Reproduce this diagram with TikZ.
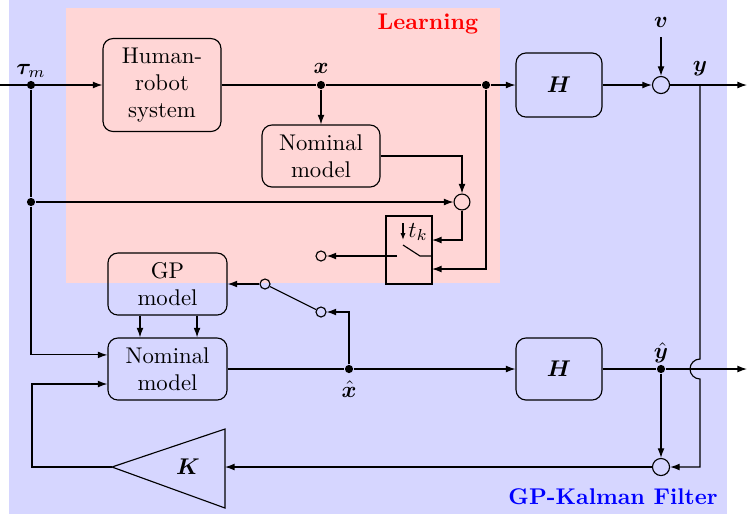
\documentclass[tikz,border=0pt]{standalone}
\usepackage{bm}
\usetikzlibrary{arrows.meta}
\begin{document}
\begin{tikzpicture}[x=0.44pt,y=-0.44pt,line width=0.5pt,
  >={Latex[length=4.2pt,width=3pt]},
  blk/.style={draw,rounded corners=4.4pt,align=center,inner sep=0pt},
  sumc/.style={draw,circle,minimum size=7.5pt,inner sep=0pt},
  term/.style={draw,circle,minimum size=4.4pt,inner sep=0pt},
  dot/.style={circle,fill,minimum size=3.6pt,inner sep=0pt},
  lbl/.style={inner sep=1pt}]
\useasboundingbox (0,0) rectangle (747,514);
\fill[blue!16] (9,0) rectangle (727,514);
\fill[red!16] (66,8) rectangle (500,283);
\node[text=red,font=\bfseries] (learn) at (428,24) {Learning};
\node[text=blue,font=\bfseries] (kf) at (613,497) {GP-Kalman Filter};
% blocks
\node[blk,minimum width=51.9pt,minimum height=40.9pt] (hrs) at (162,85) {Human-\\robot\\system};
\node[blk,minimum width=51.9pt,minimum height=27.3pt] (nom1) at (321,156) {Nominal\\model};
\node[blk,minimum width=37.8pt,minimum height=28.2pt] (H1) at (559,85) {$\bm{H}$};
\node[sumc] (s1) at (661,85) {};
\node[sumc,minimum size=7pt] (s2) at (462,202) {};
\node[draw,minimum width=20.2pt,minimum height=29.9pt,inner sep=0pt] (sw) at (409,250) {};
\node[term] (c1) at (321,256) {};
\node[term] (c2) at (265,284) {};
\node[term] (c3) at (321,312) {};
\node[blk,minimum width=52.4pt,minimum height=27.3pt] (gp) at (167.5,284) {GP\\model};
\node[blk,minimum width=52.4pt,minimum height=27.3pt] (nom2) at (167.5,369) {Nominal\\model};
\node[blk,minimum width=37.8pt,minimum height=27.3pt] (H2) at (559,369) {$\bm{H}$};
\node[sumc] (s3) at (661,467) {};
\coordinate (Ktip) at (112,467);
\coordinate (Kin) at (225,467);
\draw (225,429) -- (225,508) -- (Ktip) -- cycle;
\node (K) at (188,467) {$\bm{K}$};
% dots
\node[dot] (dtau) at (31,85) {};
\node[dot] (dx) at (321,85) {};
\node[dot] (dr) at (486,85) {};
\node[dot] (dl) at (31,202) {};
\node[dot] (dxh) at (349,369) {};
\node[dot] (dyh) at (661,369) {};
% coordinates
\coordinate (in) at (0,85);
\coordinate (out1) at (747,85);
\coordinate (out2) at (747,369);
\coordinate (vin) at (661,37);
\coordinate (yb) at (700,85);
\coordinate (hopt) at (700,359);
\coordinate (ybot) at (700,467);
\coordinate (kl) at (32,467);
\coordinate (swin1) at (432,240);
\coordinate (swin2) at (432,269);
\coordinate (swo) at (397,256);
\coordinate (swb1) at (403,245);
\coordinate (swb2) at (420,256);
\coordinate (tka) at (403,223);
\coordinate (tkb) at (403,240);
% labels
\node[lbl] (ltau) at (31,71) {$\bm{\tau}_m$};
\node[lbl] (lx) at (321,68) {$\bm{x}$};
\node[lbl] (ly) at (700,69) {$\bm{y}$};
\node[lbl] (lv) at (661,22) {$\bm{v}$};
\node[lbl] (lyh) at (661,353) {$\hat{\bm{y}}$};
\node[lbl] (lxh) at (349,389) {$\hat{\bm{x}}$};
\node[lbl] (ltk) at (418,232) {$t_k$};
% connectors
\draw[->] (in) -- (hrs.west);
\draw (hrs.east) -- (dx) -- (dr);
\draw[->] (dr) -- (H1.west);
\draw[->] (dx) -- (nom1.north);
\draw[->] (H1) -- (s1);
\draw[->] (vin) -- (s1);
\draw[->] (s1) -- (out1);
\draw[->] (nom1.east) -| (s2);
\draw[->] (dl) -- (s2);
\draw[->] (s2) |- (swin1);
\draw[->] (dr) |- (swin2);
\draw (dtau) -- (dl);
\draw[->] (dl) |- ([yshift=6.2pt]nom2.west);
\draw[->] (swo) -- (c1);
\draw (swb1) -- (swb2) -- (sw.east |- swb2);
\draw[->,>={Latex[length=3pt,width=2.2pt]}] (tka) -- (tkb);
\draw[->] (c2) -- (gp.east);
\draw (c2) -- (c3);
\draw[->] (dxh) |- (c3);
\draw[->] ([xshift=-12.1pt]gp.south) -- ([xshift=-12.1pt]nom2.north);
\draw[->] ([xshift=13pt]gp.south) -- ([xshift=13pt]nom2.north);
\draw (nom2.east) -- (dxh);
\draw[->] (dxh) -- (H2);
\draw (H2) -- (dyh);
\draw[->] (dyh) -- (out2);
\draw[->] (dyh) -- (s3);
\draw[->] (yb) -- (hopt) arc[start angle=90,end angle=270,radius=4.4pt] -- (ybot) -- (s3.east);
\draw[->] (s3) -- (Kin);
\draw[->] (Ktip) -- (kl) |- ([yshift=-6.6pt]nom2.west);
\end{tikzpicture}
\end{document}
